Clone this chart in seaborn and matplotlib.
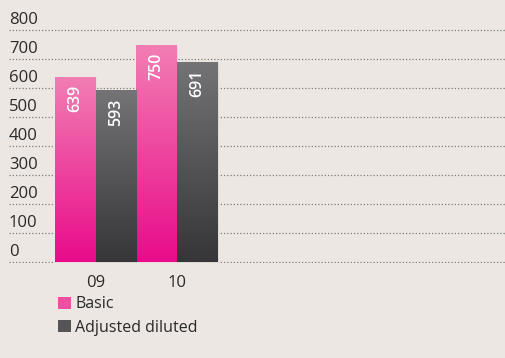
import numpy as np
import pandas as pd
import matplotlib
matplotlib.use("Agg")
import matplotlib.pyplot as plt
import matplotlib.colors as mcolors
from matplotlib.patches import Patch
import seaborn as sns

# ── data ─────────────────────────────────────────────
YEARS    = ["09", "10"]
SERIES   = ["Basic", "Adjusted diluted"]
BASIC    = [639, 750]
ADJUSTED = [593, 691]
Y_TICKS  = [0, 100, 200, 300, 400, 500, 600, 700, 800]

BG = "#ECE7E3"
GRAD = {
    "Basic":            ("#F27EB4", "#E90B8A"),
    "Adjusted diluted": ("#747476", "#363638"),
}
MID = {"Basic": "#EE4FA0", "Adjusted diluted": "#555557"}

df = pd.DataFrame({
    "year":   YEARS * 2,
    "series": [SERIES[0]] * len(YEARS) + [SERIES[1]] * len(YEARS),
    "value":  BASIC + ADJUSTED,
})

sns.set_style("white")
plt.rcParams["font.family"] = ["Open Sans", "DejaVu Sans"]

W, H = 506, 358
fig = plt.figure(figsize=(W / 100, H / 100), dpi=100, facecolor=BG)

# pixel geometry: y=0 at px 262, y=800 at px 30
y0_px, y800_px = 262, 30
ppu = (y0_px - y800_px) / 800
ylo, yhi = -5, 812
bot_px = y0_px - ylo * ppu
top_px = y800_px - (yhi - 800) * ppu
left_px = 9
ax = fig.add_axes([left_px / W, 1 - bot_px / H, 1 - left_px / W,
                   (bot_px - top_px) / H])
ax.set_facecolor(BG)

sns.barplot(data=df, x="year", y="value", hue="series", order=YEARS,
            hue_order=SERIES, palette=MID, width=1.0, gap=0,
            edgecolor=BG, linewidth=0.6, ax=ax, legend=False, zorder=3)

# gradient fill clipped to each bar
for cont, name in zip(ax.containers, SERIES):
    top_c, bot_c = GRAD[name]
    cmap = mcolors.LinearSegmentedColormap.from_list(name, [bot_c, top_c])
    for bar in cont:
        x, w, h = bar.get_x(), bar.get_width(), bar.get_height()
        grad = np.linspace(0, 1, 256).reshape(-1, 1)
        im = ax.imshow(grad, cmap=cmap, origin="lower", aspect="auto",
                       extent=[x, x + w, 0, h], zorder=3.5)
        im.set_clip_path(bar)
        ax.annotate(f"{int(h)}", (x + w / 2, h), xytext=(0, -6),
                    textcoords="offset points", rotation=90,
                    ha="center", va="top", color="white",
                    fontsize=11.5, fontweight="semibold", zorder=5)

# axes limits: category 0 centred at px 95.5, 81.5 px per category
unit = 81.5
ax.set_xlim(-(95.5 - left_px) / unit, (W - 95.5) / unit)
ax.set_ylim(ylo, yhi)

ax.set_yticks(Y_TICKS)
ax.set_yticklabels([])
ax.yaxis.grid(True, linestyle=(0, (1, 1.6)), color="#7d7d7d",
              linewidth=0.9, zorder=0)
ax.xaxis.grid(False)
ax.tick_params(axis="both", length=0)
ax.tick_params(axis="x", pad=8, labelsize=12, labelcolor="#2a2a2a")
ax.set_xlabel("")
ax.set_ylabel("")
for s in ax.spines.values():
    s.set_visible(False)

for v in Y_TICKS:
    ax.annotate(str(v), (0, v), xycoords=ax.get_yaxis_transform(),
                xytext=(0, 4.5), textcoords="offset points",
                ha="left", va="baseline", fontsize=12, color="#2a2a2a")

handles = [Patch(facecolor=MID[s], edgecolor="none") for s in SERIES]
fig.legend(handles, SERIES, loc="upper left",
           bbox_to_anchor=(52 / W, 1 - 290 / H), frameon=False,
           fontsize=11.5, handlelength=0.8, handleheight=0.8,
           handletextpad=0.25, labelspacing=0.45, borderaxespad=0,
           labelcolor="#2a2a2a")

fig.savefig("out.png", dpi=100, facecolor=BG)
